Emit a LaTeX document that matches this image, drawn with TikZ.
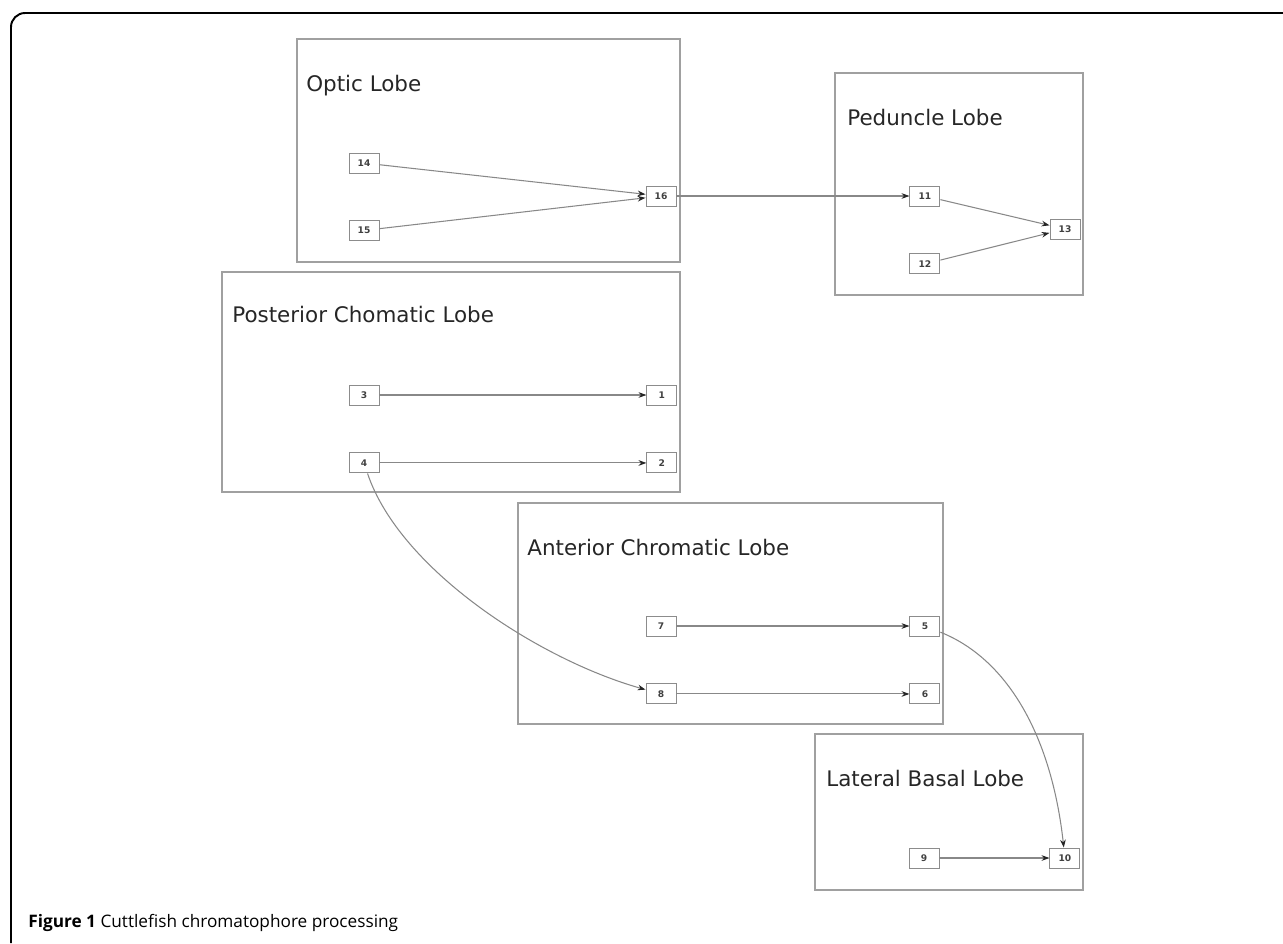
\documentclass[tikz,border=0pt]{standalone}
\usepackage{fontspec}
\setmainfont{DejaVu Sans}
\newfontfamily\capfont{Open Sans}
\usetikzlibrary{positioning,arrows.meta}
\definecolor{lobegray}{HTML}{A0A0A0}
\definecolor{linkgray}{HTML}{888888}

\tikzset{
  lobe/.style={draw=lobegray, line width=0.85pt},
  lobetitle/.style={anchor=base west, inner sep=0pt, text=black!85,
    font=\fontsize{12.2}{14}\selectfont},
  cell/.style={draw=black!45, line width=0.55pt, minimum width=0.6cm,
    minimum height=0.4cm, inner sep=0pt, text=black!75,
    font=\fontsize{5.2}{6}\selectfont\bfseries},
  link/.style={draw=linkgray, line width=0.6pt,
    -{Stealth[length=4.5pt, width=3.2pt, color=black!85]}},
}

\begin{document}
\begin{tikzpicture}[x=0.02cm, y=-0.02cm]
  \useasboundingbox (0,0) rectangle (1283,943);
  % Outer frame
  \draw[line width=1.1pt, rounded corners=8pt] (11,943) -- (11,13) -- (1283,13);

  % Define lobes
  \draw[lobe] (297,39) rectangle (680,262);
  \draw[lobe] (835,73) rectangle (1083,295);
  \draw[lobe] (222,272) rectangle (680,492);
  \draw[lobe] (518,503) rectangle (943,724);
  \draw[lobe] (815,734) rectangle (1083,890);
  \node[lobetitle] (optic) at (306,91) {Optic Lobe};
  \node[lobetitle] (peduncle) at (847,125) {Peduncle Lobe};
  \node[lobetitle] (posterior) at (232,322) {Posterior Chomatic Lobe};
  \node[lobetitle] (anterior) at (527,555) {Anterior Chromatic Lobe};
  \node[lobetitle] (lateral) at (826,786) {Lateral Basal Lobe};

  % Define nodes
  \node[cell] (n14) at (364,163) {14};
  \node[cell, below=0.93cm of n14] (n15) {15};
  \node[cell] (n16) at (661,196) {16};
  \node[cell, right=4.66cm of n16] (n11) {11};
  \node[cell, below=0.94cm of n11] (n12) {12};
  \node[cell] (n13) at (1065,229) {13};
  \node[cell] (n3) at (364,395) {3};
  \node[cell, right=5.34cm of n3] (n1) {1};
  \node[cell, below=0.94cm of n3] (n4) {4};
  \node[cell, right=5.34cm of n4] (n2) {2};
  \node[cell] (n7) at (661,626) {7};
  \node[cell, right=4.66cm of n7] (n5) {5};
  \node[cell, below=0.94cm of n7] (n8) {8};
  \node[cell, right=4.66cm of n8] (n6) {6};
  \node[cell] (n9) at (924,858) {9};
  \node[cell, right=2.2cm of n9] (n10) {10};

  % Connections
  \draw[link] (n14) -- (n16);
  \draw[link] (n15) -- (n16);
  \draw[link] (n16) -- (n11);
  \draw[link] (n11) -- (n13);
  \draw[link] (n12) -- (n13);
  \draw[link] (n3) -- (n1);
  \draw[link] (n4) -- (n2);
  \draw[link] (n7) -- (n5);
  \draw[link] (n8) -- (n6);
  \draw[link] (n9) -- (n10);
  \draw[link] (n4) .. controls (400,570) and (540,660) .. (n8);
  \draw[link] (n5) .. controls (1010,660) and (1052,740) .. (n10);

  % Caption
  \node[anchor=base west, inner sep=0pt, font=\capfont\fontsize{9.8}{12}\selectfont]
    (caption) at (28,927) {\textbf{Figure 1} Cuttlefish chromatophore processing};
\end{tikzpicture}
\end{document}
